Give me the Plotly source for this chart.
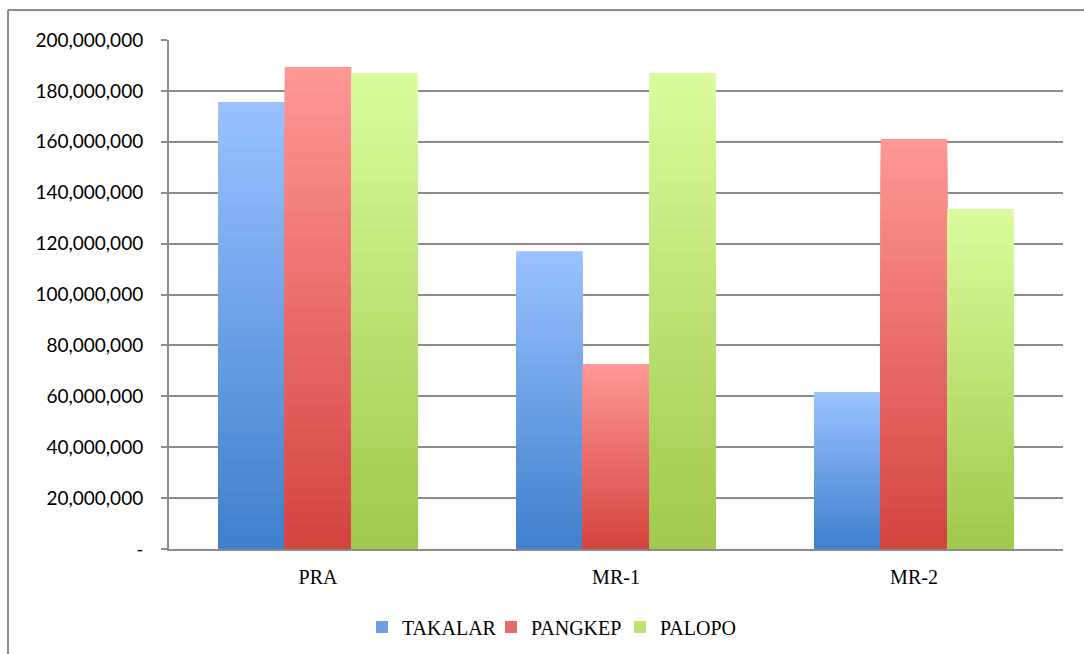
import plotly.graph_objects as go

categories = ["PRA", "MR-1", "MR-2"]
series_names = ["TAKALAR", "PANGKEP", "PALOPO"]
takalar = [175600000, 117000000, 61700000]
pangkep = [189400000, 72700000, 161100000]
palopo = [187000000, 187000000, 133600000]
series_values = [takalar, pangkep, palopo]

tick_vals = [0, 20000000, 40000000, 60000000, 80000000, 100000000,
             120000000, 140000000, 160000000, 180000000, 200000000]
tick_text = ["-", "20,000,000", "40,000,000", "60,000,000", "80,000,000",
             "100,000,000", "120,000,000", "140,000,000", "160,000,000",
             "180,000,000", "200,000,000"]

# gradient colours (bottom -> top) per series
bottom_cols = [(63, 127, 205), (211, 67, 64), (160, 200, 76)]
top_cols = [(155, 194, 255), (255, 152, 150), (219, 253, 158)]

N = 40  # gradient steps


def mix(c0, c1, t):
    return "rgb(%d,%d,%d)" % tuple(round(a + (b - a) * t) for a, b in zip(c0, c1))


fig = go.Figure()
for s, (name, vals) in enumerate(zip(series_names, series_values)):
    for k in range(N):
        frac_h = (N - k) / N
        t = (N - k - 0.5) / N
        fig.add_trace(go.Bar(
            x=categories,
            y=[v * frac_h for v in vals],
            name=name,
            offsetgroup=str(s),
            legendgroup=name,
            showlegend=(k == N // 2),
            marker=dict(color=mix(bottom_cols[s], top_cols[s], t), line=dict(width=0)),
            customdata=vals,
            hovertemplate="%{x}<br>" + name + ": %{customdata:,}<extra></extra>",
        ))

L, R, T, B = 169, 21, 40, 105
W, H = 1084, 654
pw = W - L - R
ph = H - T - B

fig.update_layout(
    width=W, height=H,
    margin=dict(l=L, r=R, t=T, b=B, autoexpand=False),
    barmode="group",
    bargap=0.33,
    bargroupgap=0,
    plot_bgcolor="white",
    paper_bgcolor="white",
    showlegend=True,
    legend=dict(
        orientation="h",
        x=(362 - L) / pw, xanchor="left",
        y=-(627 - (H - B)) / ph, yanchor="middle",
        font=dict(family="Liberation Serif", size=20, color="#000"),
        traceorder="normal",
        entrywidth=84,
        entrywidthmode="pixels",
        itemclick=False,
    ),
    xaxis=dict(
        showline=True, linecolor="#8c8c8c", linewidth=2,
        ticks="", tickfont=dict(family="Liberation Serif", size=20, color="#000"),
        ticklabelstandoff=9,
    ),
    yaxis=dict(
        range=[0, 200000000],
        tickvals=tick_vals, ticktext=tick_text,
        showgrid=True, gridcolor="#8c8c8c", gridwidth=1.5,
        showline=True, linecolor="#8c8c8c", linewidth=2,
        ticks="outside", ticklen=6, tickcolor="#8c8c8c", tickwidth=1.5,
        tickfont=dict(family="Lato", size=19, color="#000"),
        ticklabelstandoff=14,
        zeroline=False,
    ),
    shapes=[
        dict(type="line", xref="paper", yref="paper",
             x0=(8 - L) / pw, x1=(8 - L) / pw,
             y0=(H - B - 10) / ph, y1=-(B + 5) / ph,
             line=dict(color="#8c8c8c", width=2)),
        dict(type="line", xref="paper", yref="paper",
             x0=(8 - L) / pw, x1=(W + 5 - L) / pw,
             y0=(H - B - 10) / ph, y1=(H - B - 10) / ph,
             line=dict(color="#8c8c8c", width=2)),
    ],
)

fig.write_html("out.html")
